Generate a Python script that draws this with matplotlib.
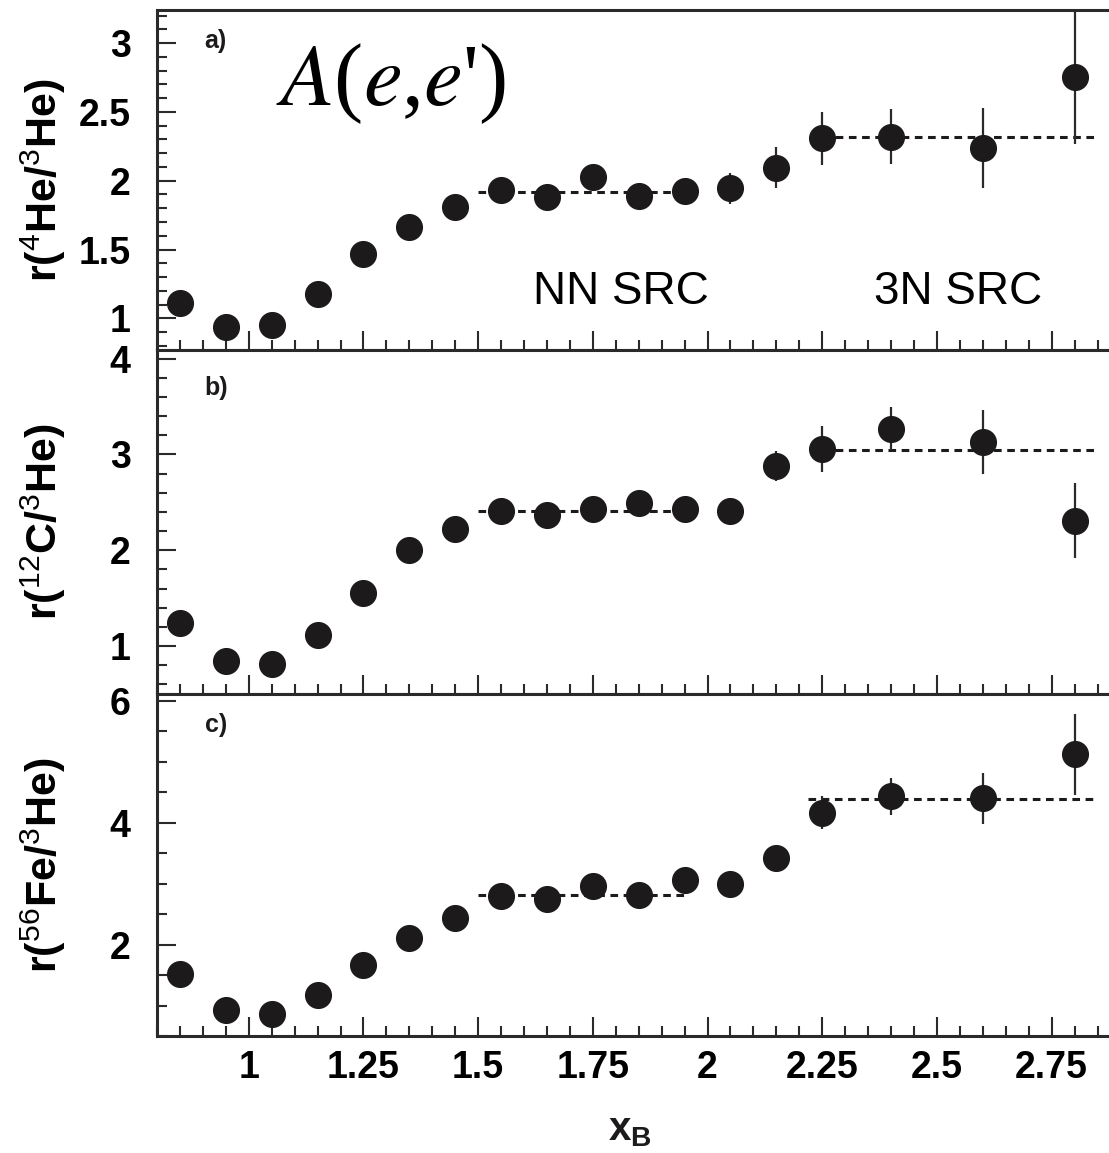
import matplotlib
matplotlib.use("Agg")
import matplotlib.pyplot as plt
from matplotlib.ticker import MultipleLocator, FixedLocator

plt.rcParams['font.family'] = ['Liberation Sans', 'DejaVu Sans']
plt.rcParams['mathtext.fontset'] = 'custom'
plt.rcParams['mathtext.rm'] = 'Liberation Sans'
plt.rcParams['mathtext.bf'] = 'Liberation Sans:bold'
plt.rcParams['mathtext.it'] = 'Liberation Sans:italic'
plt.rcParams['lines.scale_dashes'] = False

# ---- data ----
x_b = [0.85, 0.95, 1.05, 1.15, 1.25, 1.35, 1.45, 1.55, 1.65, 1.75, 1.85,
       1.95, 2.05, 2.15, 2.25, 2.40, 2.60, 2.80]

r_he4 = [1.11, 0.94, 0.95, 1.175, 1.47, 1.66, 1.81, 1.93, 1.88, 2.025, 1.89,
         1.925, 1.944, 2.095, 2.307, 2.319, 2.24, 2.75]
e_he4 = [0.03, 0.03, 0.03, 0.03, 0.04, 0.04, 0.05, 0.05, 0.06, 0.06, 0.07,
         0.08, 0.11, 0.15, 0.19, 0.20, 0.29, 0.48]

r_c12 = [1.24, 0.84, 0.81, 1.12, 1.55, 2.0, 2.22, 2.41, 2.365, 2.435, 2.495,
         2.435, 2.41, 2.88, 3.06, 3.27, 3.13, 2.31]
e_c12 = [0.04, 0.04, 0.04, 0.05, 0.05, 0.06, 0.06, 0.07, 0.07, 0.08, 0.09,
         0.10, 0.11, 0.16, 0.24, 0.22, 0.33, 0.39]

r_fe56 = [1.52, 0.93, 0.86, 1.18, 1.67, 2.11, 2.44, 2.79, 2.74, 2.96, 2.82,
          3.06, 2.99, 3.42, 4.16, 4.43, 4.40, 5.12]
e_fe56 = [0.06, 0.06, 0.06, 0.07, 0.08, 0.09, 0.10, 0.11, 0.12, 0.13, 0.14,
          0.17, 0.15, 0.18, 0.27, 0.30, 0.42, 0.66]

nn_plateau = [1.92, 2.41, 2.82]
tn_plateau = [2.32, 3.05, 4.39]
nn_range = [1.50, 1.95]
tn_range = [[2.25, 2.85], [2.25, 2.85], [2.22, 2.85]]

panel_labels = ['a)', 'b)', 'c)']
ylabels = [r'r($^{\mathrm{4}}$He/$^{\mathrm{3}}$He)',
           r'r($^{\mathrm{12}}$C/$^{\mathrm{3}}$He)',
           r'r($^{\mathrm{56}}$Fe/$^{\mathrm{3}}$He)']
ylims = [(0.77, 3.24), (0.5, 4.09), (0.5, 6.11)]
yticks = [[1, 1.5, 2, 2.5, 3], [1, 2, 3, 4], [2, 4, 6]]
ytick_labels = [['1', '1.5', '2', '2.5', '3'], ['1', '2', '3', '4'], ['2', '4', '6']]
yminor = [0.1, 0.2, 0.5]
xticks = [1.0, 1.25, 1.5, 1.75, 2.0, 2.25, 2.5, 2.75]
xtick_labels = ['1', '1.25', '1.5', '1.75', '2', '2.25', '2.5', '2.75']

series = [(r_he4, e_he4), (r_c12, e_c12), (r_fe56, e_fe56)]

# ---- figure ----
W, H = 1109, 1153
fig = plt.figure(figsize=(W / 100, H / 100), dpi=100)

left_px, right_px = 157, 1109
panel_px = [(10, 350), (350, 694), (694, 1036)]

ink = '#1c1a1a'
spine_col = '#2a2a2a'
axes = []
for i, (top, bot) in enumerate(panel_px):
    ax = fig.add_axes([left_px / W, (H - bot) / H, (right_px - left_px) / W, (bot - top) / H])
    axes.append(ax)
    y, e = series[i]
    ax.errorbar(x_b, y, yerr=e, fmt='o', ms=18.5, color=ink, mfc=ink, mec=ink,
                ecolor='#2a2a2a', elinewidth=1.6, capsize=0, zorder=3)
    ax.plot(nn_range, [nn_plateau[i]] * 2, color=ink, lw=2.2, dashes=(5.5, 4.0), zorder=2)
    ax.plot(tn_range[i], [tn_plateau[i]] * 2, color=ink, lw=2.2, dashes=(5.5, 4.0), zorder=2)

    ax.set_xlim(0.8, 2.875)
    ax.set_ylim(*ylims[i])
    ax.xaxis.set_major_locator(FixedLocator(xticks))
    ax.xaxis.set_minor_locator(MultipleLocator(0.05))
    ax.yaxis.set_major_locator(FixedLocator(yticks[i]))
    ax.yaxis.set_minor_locator(MultipleLocator(yminor[i]))
    ax.set_yticklabels(ytick_labels[i])
    ax.tick_params(which='both', direction='in', top=False, right=False,
                   color=spine_col, width=1.5)
    ax.tick_params(which='major', length=14)
    ax.tick_params(which='minor', length=7)
    ax.tick_params(axis='y', labelsize=27, pad=19)
    ax.tick_params(axis='x', labelsize=27, pad=10)
    for lab in ax.get_yticklabels():
        lab.set_fontweight('bold')
    if i < 2:
        ax.set_xticklabels([])
    else:
        ax.set_xticklabels(xtick_labels, fontweight='bold')
    for s in ['left', 'top', 'bottom']:
        ax.spines[s].set_linewidth(2.2)
        ax.spines[s].set_color(spine_col)
    ax.spines['right'].set_visible(False)

    ax.set_ylabel(ylabels[i], fontsize=31, fontweight='bold', math_fontfamily='custom')
    ax.yaxis.set_label_coords(-0.093, 0.5)
    ax.text(0.05, 0.91 if i != 1 else 0.89, panel_labels[i], transform=ax.transAxes,
            fontsize=18, fontweight='bold', ha='left', va='center', color=ink)

# annotations in panel a
axes[0].text(0.246, 0.785, r"$A$($e$,$e$')", transform=axes[0].transAxes, fontsize=63,
             family='Liberation Serif', math_fontfamily='stix',
             ha='center', va='center', color='black')
axes[0].text(0.487, 0.17, 'NN SRC', transform=axes[0].transAxes, fontsize=33,
             ha='center', va='center', color='black')
axes[0].text(0.841, 0.17, '3N SRC', transform=axes[0].transAxes, fontsize=33,
             ha='center', va='center', color='black')

fig.text(630 / W, 1 - 1130 / H, r'x$_{\mathbf{B}}$', fontsize=29, fontweight='bold',
         math_fontfamily='custom', ha='center', va='center', color=ink)

fig.savefig('out.png', dpi=100)
